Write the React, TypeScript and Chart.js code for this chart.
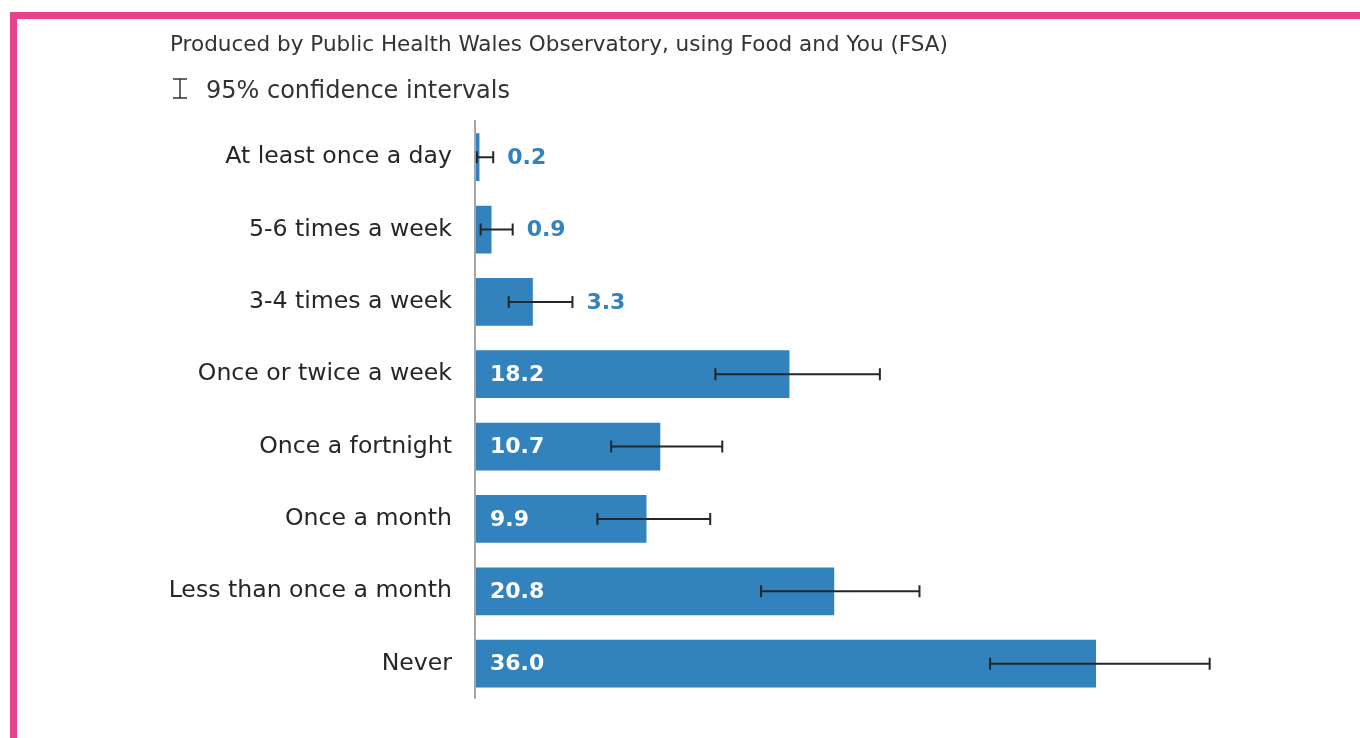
import React, { useEffect, useRef } from "react";
import { Chart, registerables } from "chart.js";

Chart.register(...registerables);

const categories = [
  "At least once a day",
  "5-6 times a week",
  "3-4 times a week",
  "Once or twice a week",
  "Once a fortnight",
  "Once a month",
  "Less than once a month",
  "Never",
];
const values = [0.2, 0.9, 3.3, 18.2, 10.7, 9.9, 20.8, 36.0];
const ciLow = [0.05, 0.27, 1.9, 13.9, 7.85, 7.05, 16.55, 29.85];
const ciHigh = [1.0, 2.13, 5.6, 23.45, 14.3, 13.6, 25.75, 42.6];
const titleText = "Produced by Public Health Wales Observatory, using Food and You (FSA)";
const legendText = "95% confidence intervals";

const FONT = "'DejaVu Sans', Verdana, sans-serif";
const BAR_COLOR = "#3182BD";

function fitText(ctx: CanvasRenderingContext2D, text: string, x: number, y: number, width: number) {
  const w = ctx.measureText(text).width;
  ctx.save();
  ctx.translate(x, y);
  ctx.scale(width / w, 1);
  ctx.fillText(text, 0, 0);
  ctx.restore();
}

const decorPlugin = {
  id: "decor",
  afterDatasetsDraw(chart: any) {
    const ctx: CanvasRenderingContext2D = chart.ctx;
    const area = chart.chartArea;
    const xs = chart.scales.x;
    const meta = chart.getDatasetMeta(0);
    ctx.save();
    // axis line
    ctx.strokeStyle = "#A6A6A6";
    ctx.lineWidth = 2;
    ctx.beginPath();
    ctx.moveTo(area.left - 1, area.top - 1);
    ctx.lineTo(area.left - 1, area.bottom - 1);
    ctx.stroke();
    // error bars and labels
    meta.data.forEach((bar: any, i: number) => {
      const y = bar.y;
      const xl = xs.getPixelForValue(ciLow[i]);
      const xh = xs.getPixelForValue(ciHigh[i]);
      ctx.strokeStyle = "#262626";
      ctx.lineWidth = 2;
      ctx.beginPath();
      ctx.moveTo(xl, y);
      ctx.lineTo(xh, y);
      ctx.moveTo(xl, y - 6);
      ctx.lineTo(xl, y + 6);
      ctx.moveTo(xh, y - 6);
      ctx.lineTo(xh, y + 6);
      ctx.stroke();
      ctx.font = `bold 22px ${FONT}`;
      ctx.textBaseline = "middle";
      ctx.textAlign = "left";
      const label = values[i].toFixed(1);
      if (values[i] >= 5) {
        ctx.fillStyle = "#FFFFFF";
        ctx.fillText(label, xs.getPixelForValue(0) + 14, y + 1);
      } else {
        ctx.fillStyle = BAR_COLOR;
        ctx.fillText(label, xh + 14, y + 1);
      }
    });
    ctx.restore();
  },
  afterDraw(chart: any) {
    const ctx: CanvasRenderingContext2D = chart.ctx;
    ctx.save();
    // pink frame
    ctx.fillStyle = "#E6448A";
    ctx.fillRect(10, 12, 1350, 7);
    ctx.fillRect(10, 12, 7, 726);
    // title
    ctx.fillStyle = "#333333";
    ctx.textBaseline = "alphabetic";
    ctx.textAlign = "left";
    ctx.font = `21px ${FONT}`;
    fitText(ctx, titleText, 170, 51, 778);
    // legend icon
    ctx.strokeStyle = "#333333";
    ctx.lineWidth = 1.5;
    ctx.beginPath();
    ctx.moveTo(180, 79);
    ctx.lineTo(180, 98);
    ctx.moveTo(173, 79);
    ctx.lineTo(187, 79);
    ctx.moveTo(173, 98);
    ctx.lineTo(187, 98);
    ctx.stroke();
    ctx.font = `24px ${FONT}`;
    fitText(ctx, legendText, 206, 98, 304);
    ctx.restore();
  },
};

export default function App() {
  const ref = useRef<HTMLCanvasElement>(null);
  useEffect(() => {
    document.body.style.margin = "0";
    document.body.style.overflow = "hidden";
    const canvas = ref.current!;
    const chart = new Chart(canvas, {
      type: "bar",
      data: {
        labels: categories,
        datasets: [
          {
            data: values,
            backgroundColor: BAR_COLOR,
            barPercentage: 0.66,
            categoryPercentage: 1,
          },
        ],
      },
      options: {
        indexAxis: "y",
        animation: false,
        responsive: false,
        devicePixelRatio: 1,
        layout: { padding: { top: 121, bottom: 35, left: 0, right: 109 } },
        plugins: {
          legend: { display: false },
          tooltip: { enabled: false },
          title: { display: false },
        },
        scales: {
          x: { display: false, min: 0, max: 45 },
          y: {
            position: "left",
            grid: { display: false, drawTicks: false },
            border: { display: false },
            ticks: {
              padding: 24,
              color: "#262626",
              font: { family: FONT, size: 23.6 },
            },
            afterFit(scale: any) {
              scale.width = 476;
            },
          },
        },
      },
      plugins: [decorPlugin],
    });
    return () => chart.destroy();
  }, []);
  return (
    <div style={{ width: 1360, height: 738, overflow: "hidden", background: "#fff" }}>
      <canvas ref={ref} width={1360} height={738} style={{ display: "block" }} />
    </div>
  );
}
